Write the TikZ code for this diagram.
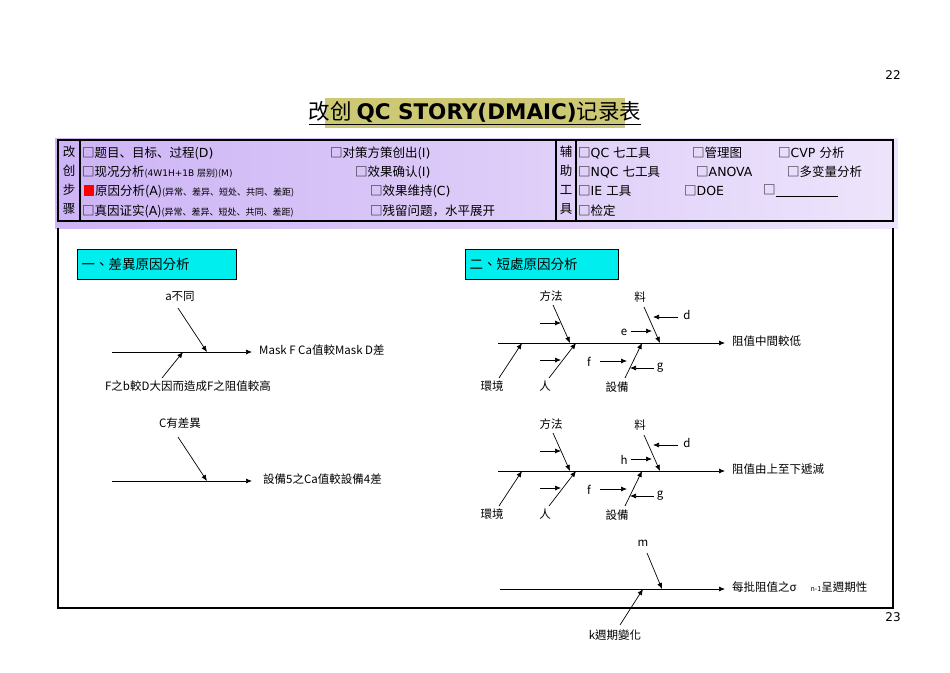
\documentclass[tikz,border=0pt]{standalone}
\usepackage{fontspec}
\setmainfont{Noto Sans CJK SC}
\newfontfamily\tcfont{Noto Sans CJK TC}
\newfontfamily\dvs{DejaVu Sans}
\newcommand\smf{\fontsize{9}{10}\selectfont}
\usetikzlibrary{arrows.meta}
\definecolor{hdr}{RGB}{205,180,245}
\definecolor{hil}{RGB}{205,200,115}
\definecolor{cy}{RGB}{0,238,238}
\begin{document}
\begin{tikzpicture}[x=1pt,y=-1pt,
  txt/.style={anchor=west,inner sep=0pt,font=\fontsize{12.5}{14}\selectfont},
  lab/.style={inner sep=1pt,font=\tcfont\fontsize{11.5}{13}\selectfont},
  arr/.style={-{Latex[length=6pt,width=5pt]},line width=0.7pt},
  ln/.style={line width=0.7pt}]
\useasboundingbox (0,0) rectangle (950,672);
\node[font=\dvs\fontsize{12}{14}\selectfont] (p22) at (893,75) {22};
\node[font=\dvs\fontsize{12}{14}\selectfont] (p23) at (893,617) {23};
% title
\fill[hil] (325,98) rectangle (625,128);
\node[font=\fontsize{21.5}{24}\selectfont,inner sep=1pt] (title) at (475,113) {\underline{改创 {\dvs\bfseries QC STORY(DMAIC)}记录表}};
% header
\shade[left color=hdr, right color=hdr!35, middle color=hdr!70] (55,138) rectangle (898,228);
\draw[line width=1.5pt] (58,140) rectangle (893,221);
\draw[line width=1.2pt] (80,140) -- (80,221) (556,140) -- (556,221) (576,140) -- (576,221);
\node[txt,align=center,anchor=center,font=\fontsize{12.5}{19}\selectfont] (c1) at (69,180) {改\\创\\步\\骤};
\node[txt,align=center,anchor=center,font=\fontsize{12.5}{19}\selectfont] (c2) at (566,180) {辅\\助\\工\\具};
\node[txt] (r1) at (82,153) {□题目、目标、过程(\dvs D)};
\node[txt] (r2) at (82,172) {□现况分析{\smf(\dvs 4W1H+1B \rmfamily 层别)(\dvs M)}};
\fill[red] (84,185) rectangle (94,196);
\node[txt] (r3) at (95,191) {原因分析(\dvs A\rmfamily){\smf(异常、差异、短处、共同、差距)}};
\node[txt] (r4) at (82,211) {□真因证实(\dvs A\rmfamily){\smf(异常、差异、短处、共同、差距)}};
\node[txt] (s1) at (330,153) {□对策方策创出(\dvs I)};
\node[txt] (s2) at (355,172) {□效果确认(\dvs I)};
\node[txt] (s3) at (370,191) {□效果维持(\dvs C)};
\node[txt] (s4) at (370,211) {□残留问题，水平展开};
\node[txt] (t1) at (578,153) {□\dvs QC \rmfamily 七工具};
\node[txt] (t2) at (692,153) {□管理图};
\node[txt] (t3) at (778,153) {□\dvs CVP \rmfamily 分析};
\node[txt] (t4) at (578,172) {□\dvs NQC \rmfamily 七工具};
\node[txt] (t5) at (696,172) {□\dvs ANOVA};
\node[txt] (t6) at (787,172) {□多变量分析};
\node[txt] (t7) at (578,191) {□\dvs IE \rmfamily 工具};
\node[txt] (t8) at (684,191) {□\dvs DOE};
\node[txt] (t9) at (763,191) {□\underline{\hspace{62pt}}};
\node[txt] (t10) at (578,211) {□检定};
% frame
\draw[line width=1.5pt] (58,228) -- (58,608) -- (893,608) -- (893,228);
% section boxes
\node[draw,fill=cy,anchor=north west,minimum width=159pt,minimum height=30pt,text width=150pt,font=\tcfont\fontsize{13.5}{15}\selectfont] (b1) at (77,249) {一、差異原因分析};
\node[draw,fill=cy,anchor=north west,minimum width=153pt,minimum height=30pt,text width=144pt,font=\tcfont\fontsize{13.5}{15}\selectfont] (b2) at (465,249) {二、短處原因分析};
% left diagram 1
\coordinate (L1s) at (112,352); \coordinate (L1e) at (252,352);
\node[lab,anchor=west] (L1h) at (258,350) {Mask F Ca值較Mask D差};
\draw[arr] (L1s) -- (L1e);
\node[lab] (La) at (180,296) {a不同};
\coordinate (La1) at (178,308); \coordinate (La2) at (207,352);
\draw[arr] (La1) -- (La2);
\node[lab] (Lb) at (188,386) {F之b較D大因而造成F之阻值較高};
\coordinate (Lb1) at (162,378); \coordinate (Lb2) at (183,352);
\draw[arr] (Lb1) -- (Lb2);
% left diagram 2
\coordinate (L2s) at (112,481); \coordinate (L2e) at (252,481);
\draw[arr] (L2s) -- (L2e);
\node[lab,anchor=west] (L2h) at (262,479) {設備5之Ca值較設備4差};
\node[lab] (Lc) at (180,423) {C有差異};
\coordinate (Lc1) at (178,437); \coordinate (Lc2) at (207,481);
\draw[arr] (Lc1) -- (Lc2);
% right fishbones
\foreach \dy/\hd/\ev in {0/阻值中間較低/e,128/阻值由上至下遞減/h}{
 \begin{scope}[yshift=-\dy]
  \coordinate (S) at (498,343); \coordinate (E) at (725,343);
  \draw[arr] (S) -- (E);
  \node[lab,anchor=west] (H) at (731,341) {\hd};
  \node[lab] (fa) at (551,296) {方法};
  \draw[arr] (553,305) -- (570,343);
  \draw[arr] (540,323) -- (561,323);
  \node[lab] (ren) at (545,386) {人};
  \draw[arr] (549,378) -- (576,343);
  \draw[arr] (540,360) -- (561,360);
  \node[lab] (hj) at (492,386) {環境};
  \draw[arr] (499,378) -- (522,343);
  \node[lab] (sb) at (617,387) {設備};
  \draw[arr] (625,378) -- (642,343);
  \node[lab] (ff) at (589,362) {f};
  \draw[arr] (600,361) -- (627,361);
  \node[lab] (gg) at (660,368) {g};
  \draw[arr] (654,368) -- (630,368);
  \node[lab] (li) at (640,297) {料};
  \draw[arr] (644,307) -- (660,343);
  \node[lab] (dd) at (687,315) {d};
  \draw[arr] (678,317) -- (653,317);
  \node[lab] (ee) at (624,332) {\ev};
  \draw[arr] (631,331) -- (652,331);
 \end{scope}}
% bottom
\coordinate (Bs) at (500,589); \coordinate (Be) at (725,589);
\draw[arr] (Bs) -- (Be);
\node[lab,anchor=west] (Bh) at (731,587) {每批阻值之σ\hspace{14pt}{\fontsize{7}{8}\selectfont n-1}呈週期性};
\node[lab] (Bm) at (643,543) {m};
\draw[arr] (647,553) -- (662,589);
\node[lab] (Bk) at (615,635) {k週期變化};
\draw[arr] (620,625) -- (643,589);
\end{tikzpicture}
\end{document}
